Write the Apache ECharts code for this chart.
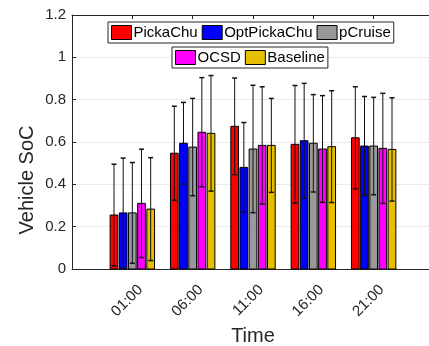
<!DOCTYPE html>
<html>
<head>
<meta charset="utf-8">
<script src="https://cdn.jsdelivr.net/npm/echarts@6/dist/echarts.min.js"></script>
<style>
    html, body { margin: 0; padding: 0; background: #fff; }
    #chart { width: 429px; height: 346px; }
</style>
</head>
<body>
<div id="chart"></div>
<script>
// time slots on the x axis (placed at 1..5)
const categories = ['01:00', '06:00', '11:00', '16:00', '21:00'];
const methods = ['PickaChu', 'OptPickaChu', 'pCruise', 'OCSD', 'Baseline'];
const colors = ['#ff0000', '#0000ff', '#999999', '#ff00ff', '#e6bf00'];

// mean vehicle SoC
const pickaChuMean = [0.255, 0.547, 0.674, 0.589, 0.620];
const optPickaChuMean = [0.265, 0.594, 0.480, 0.606, 0.581];
const pCruiseMean = [0.265, 0.576, 0.567, 0.594, 0.581];
const ocsdMean = [0.310, 0.646, 0.584, 0.567, 0.570];
const baselineMean = [0.283, 0.641, 0.584, 0.578, 0.565];

// standard deviation (error bars)
const pickaChuStd = [0.240, 0.222, 0.228, 0.278, 0.241];
const optPickaChuStd = [0.259, 0.193, 0.212, 0.271, 0.234];
const pCruiseStd = [0.238, 0.230, 0.301, 0.230, 0.230];
const ocsdStd = [0.256, 0.258, 0.277, 0.252, 0.260];
const baselineStd = [0.243, 0.273, 0.222, 0.264, 0.244];

const yTicks = [0, 0.2, 0.4, 0.6, 0.8, 1, 1.2];

const means = [pickaChuMean, optPickaChuMean, pCruiseMean, ocsdMean, baselineMean];
const stds = [pickaChuStd, optPickaChuStd, pCruiseStd, ocsdStd, baselineStd];

const barStep = 0.152;
const barHalf = 0.064;
const font = 'Liberation Sans, Arial, Helvetica, sans-serif';
const axisColor = '#262626';

// 分组柱 + 误差线
function renderBar(params, api) {
    const x = api.value(0) + (params.seriesIndex - 2) * barStep;
    const m = api.value(1);
    const s = api.value(2);
    const p0 = api.coord([x - barHalf, m]);
    const p1 = api.coord([x + barHalf, 0]);
    const top = api.coord([x, m + s]);
    const bot = api.coord([x, m - s]);
    const cap = 2.5;
    return {
        type: 'group',
        children: [
            {
                type: 'rect',
                shape: { x: p0[0], y: p0[1], width: p1[0] - p0[0], height: p1[1] - p0[1] },
                style: { fill: api.visual('color'), stroke: '#000', lineWidth: 1 }
            },
            {
                type: 'line',
                shape: { x1: top[0], y1: top[1], x2: bot[0], y2: bot[1] },
                style: { stroke: '#111', lineWidth: 1 }
            },
            {
                type: 'line',
                shape: { x1: top[0] - cap, y1: top[1], x2: top[0] + cap, y2: top[1] },
                style: { stroke: '#111', lineWidth: 1.5 }
            },
            {
                type: 'line',
                shape: { x1: bot[0] - cap, y1: bot[1], x2: bot[0] + cap, y2: bot[1] },
                style: { stroke: '#111', lineWidth: 1.5 }
            }
        ]
    };
}

const series = methods.map((name, k) => ({
    name: name,
    type: 'custom',
    renderItem: renderBar,
    itemStyle: { color: colors[k] },
    encode: { x: 0, y: 1 },
    data: means[k].map((m, i) => [i + 1, m, stds[k][i]])
}));

const legendBase = {
    orient: 'horizontal',
    icon: 'rect',
    itemWidth: 20,
    itemHeight: 14,
    itemGap: 4,
    padding: [3, 3, 3, 3],
    borderColor: axisColor,
    borderWidth: 1,
    backgroundColor: '#fff',
    itemStyle: { borderColor: '#000', borderWidth: 1 },
    textStyle: { fontFamily: font, fontSize: 15, color: '#000', padding: [0, 0, 0, -3] }
};

const chart = echarts.init(document.getElementById('chart'), null, { renderer: 'canvas' });
chart.setOption({
    animation: false,
    textStyle: { fontFamily: font },
    grid: { left: 72, top: 15, width: 362, height: 254, outerBoundsMode: 'none', containLabel: false },
    legend: [
        Object.assign({}, legendBase, { data: methods.slice(0, 3), left: 108, top: 22 }),
        Object.assign({}, legendBase, { data: methods.slice(3), left: 172, top: 47 })
    ],
    xAxis: [
        {
            type: 'value',
            min: 0,
            max: 6,
            interval: 1,
            name: 'Time',
            nameLocation: 'middle',
            nameGap: 56,
            nameTextStyle: { fontFamily: font, fontSize: 20, color: axisColor },
            axisLine: { show: true, lineStyle: { color: axisColor, width: 1 } },
            axisTick: { show: true, inside: true, length: 4, lineStyle: { color: axisColor } },
            splitLine: { show: false },
            axisLabel: {
                rotate: 45,
                margin: 16,
                verticalAlign: 'top',
                padding: [0, -4, 0, 0],
                fontFamily: font,
                fontSize: 15,
                color: axisColor,
                formatter: (v) => categories[v - 1] || ''
            }
        },
        {
            type: 'value',
            position: 'top',
            min: 0,
            max: 6,
            interval: 1,
            axisLine: { show: true, lineStyle: { color: axisColor, width: 1 } },
            axisTick: { show: true, inside: true, length: 4, lineStyle: { color: axisColor } },
            splitLine: { show: false },
            axisLabel: { show: false }
        }
    ],
    yAxis: {
        type: 'value',
        min: yTicks[0],
        max: yTicks[yTicks.length - 1],
        interval: 0.2,
        axisLine: { show: true, lineStyle: { color: axisColor, width: 1 } },
        axisTick: { show: true, inside: true, length: 4, lineStyle: { color: axisColor } },
        splitLine: { show: true, lineStyle: { color: '#ebebeb', width: 1 } },
        axisLabel: { margin: 6, fontFamily: font, fontSize: 15, color: axisColor }
    },
    graphic: [
        {
            type: 'text',
            x: 27,
            y: 180,
            rotation: Math.PI / 2,
            style: {
                text: 'Vehicle SoC',
                font: '20px ' + font,
                fill: axisColor,
                textAlign: 'center',
                textVerticalAlign: 'middle'
            }
        }
    ],
    series: series
});
</script>
</body>
</html>
